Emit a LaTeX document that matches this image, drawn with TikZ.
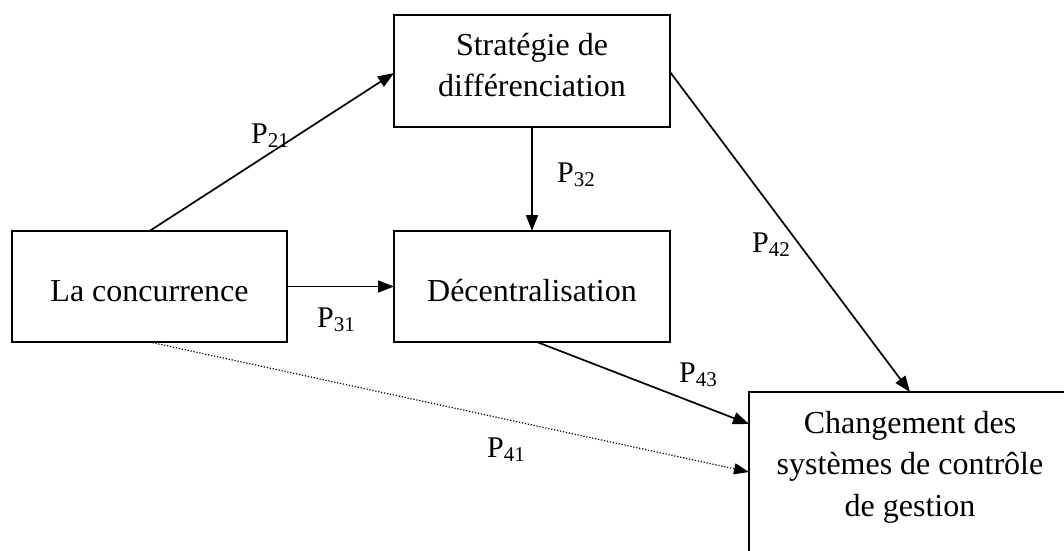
\documentclass[tikz,border=0pt]{standalone}
\usepackage{fontspec}
\setmainfont{Liberation Serif}
\usetikzlibrary{arrows.meta,calc}
\newcommand{\plab}[1]{P\raisebox{-4pt}{\fontsize{21}{21}\selectfont #1}}
\begin{document}
\begin{tikzpicture}[x=1pt,y=-1pt,
  box/.style={draw,line width=1.9pt,inner sep=0pt,outer sep=0pt},
  onebox/.style={box,minimum height=111pt,text height=29pt,text depth=0pt,font=\fontsize{32}{41.5}\selectfont},
  conn/.style={line width=1.7pt,-{Triangle[length=16pt,width=12pt]}},
  dotconn/.style={line width=1.2pt,dash pattern=on 1.2pt off 1.8pt,-{Triangle[length=15pt,width=11pt]}},
  plabel/.style={anchor=base west,inner sep=0pt,font=\fontsize{30}{30}\selectfont}]
\clip (0,0) rectangle (1064,550);
\fill[white] (0,0) rectangle (1064,550);
% boxes
\node[onebox,minimum width=275pt] (a) at (149.5,286.5) {La concurrence};
\node[onebox,minimum width=276pt] (c) at (532,286.5) {Décentralisation};
\node[box,anchor=north west,inner xsep=0pt,inner ysep=18pt] (b) at (394,15)
  {\parbox[t][76pt][t]{276pt}{\centering\fontsize{32}{41.5}\selectfont Stratégie de\\différenciation}};
\node[box,anchor=north west,inner xsep=0pt,inner ysep=19pt] (d) at (749,392)
  {\parbox[t][200pt][t]{322pt}{\centering\fontsize{32}{41.5}\selectfont Changement des\\systèmes de contrôle\\de gestion}};
% connectors
\coordinate (d43) at ($(d.north west)+(0,32)$);
\coordinate (d41) at ($(d.north west)+(0,80)$);
\coordinate (c43) at ($(c.south)+(5,0)$);
\coordinate (b42) at ($(b.east)+(0,1)$);
\coordinate (d42) at (d.north -| 910,0);
\draw[conn] (a.north) -- ($(b.west)+(0,2)$);
\draw[conn] (a.east) -- (c.west);
\draw[conn] (b.south) -- (c.north);
\draw[conn] (b42) -- (d42);
\draw[conn] (c43) -- (d43);
\draw[dotconn] (a.south) -- (d41);
% labels
\node[plabel] (p21) at (251,143) {\plab{21}};
\node[plabel] (p31) at (317,327) {\plab{31}};
\node[plabel] (p41) at (487,457) {\plab{41}};
\node[plabel] (p32) at (557,182) {\plab{32}};
\node[plabel] (p42) at (752,252) {\plab{42}};
\node[plabel] (p43) at (679,382) {\plab{43}};
\end{tikzpicture}
\end{document}
